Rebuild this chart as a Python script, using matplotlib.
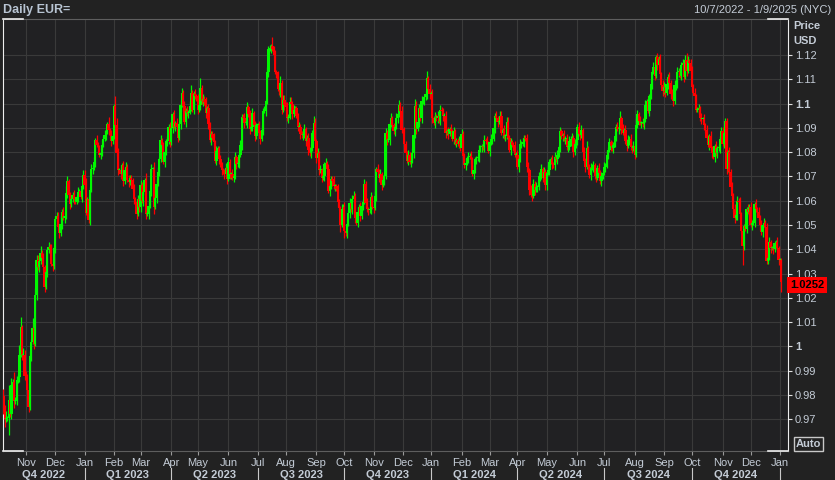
import matplotlib
matplotlib.use('Agg')
import matplotlib.pyplot as plt
import matplotlib.transforms as mtransforms
import numpy as np
import pandas as pd

plt.rcParams['font.family'] = ['Liberation Sans', 'DejaVu Sans']

# EUR/USD daily, prices x10000, one line per month
first_open = 9795
closes = [
    9740, 9700, 9705, 9705, 9780, 9720, 9840, 9855, 9775, 9780, 9860, 9875, 9965, 10080, 9965, 9965, 9880,  # Oct 22
    9875, 9820, 9750, 9960, 10020, 10075, 10010, 10210, 10355, 10325, 10350, 10385, 10365, 10325,
    10245, 10305, 10395, 10410, 10400, 10340, 10330, 10405,  # Nov 22
    10525, 10535, 10490, 10465, 10505, 10555, 10530, 10535, 10630, 10680, 10625, 10585,
    10605, 10625, 10605, 10595, 10615, 10635, 10640, 10615, 10660, 10705,  # Dec 22
    10665, 10550, 10605, 10520, 10645, 10730, 10735, 10760, 10850, 10830, 10820, 10790,
    10795, 10830, 10855, 10870, 10885, 10915, 10890, 10870, 10845, 10865,  # Jan 23
    10990, 10910, 10795, 10725, 10725, 10710, 10745, 10680, 10725, 10740, 10685, 10675,
    10695, 10685, 10650, 10605, 10595, 10545, 10605, 10575,  # Feb 23
    10665, 10600, 10635, 10685, 10545, 10545, 10580, 10640, 10730, 10730, 10575, 10610,
    10670, 10720, 10770, 10850, 10830, 10760, 10800, 10845, 10845, 10905, 10840,  # Mar 23
    10900, 10955, 10905, 10920, 10905, 10860, 10915, 10995, 11045, 10990, 10925, 10970,
    10960, 10965, 10990, 11045, 10975, 11040, 11030, 11020,  # Apr 23
    10975, 10995, 11065, 11010, 11020, 11005, 10960, 10980, 10915, 10850, 10875, 10860,
    10840, 10765, 10805, 10815, 10770, 10750, 10725, 10720, 10710, 10735, 10690,  # May 23
    10760, 10710, 10710, 10695, 10700, 10780, 10750, 10755, 10790, 10830, 10945, 10940,
    10920, 10920, 10985, 10955, 10895, 10905, 10960, 10910, 10865, 10910,  # Jun 23
    10910, 10880, 10855, 10890, 10970, 10970, 11010, 11130, 11225, 11230, 11235, 11225,
    11200, 11130, 11125, 11060, 11055, 11085, 10975, 11015, 10995,  # Jul 23
    10985, 10940, 10945, 11005, 11000, 10955, 10975, 10980, 10950, 10905, 10905, 10875,
    10870, 10870, 10895, 10845, 10860, 10810, 10795, 10815, 10880, 10920, 10845,  # Aug 23
    10775, 10795, 10725, 10725, 10695, 10700, 10750, 10755, 10730, 10640, 10660, 10690,
    10680, 10660, 10660, 10650, 10595, 10570, 10500, 10565, 10575,  # Sep 23
    10475, 10465, 10505, 10550, 10590, 10565, 10605, 10620, 10530, 10510, 10555, 10575,
    10535, 10580, 10595, 10670, 10590, 10565, 10560, 10565, 10615, 10575,  # Oct 23
    10570, 10620, 10730, 10720, 10695, 10710, 10665, 10685, 10700, 10880, 10850, 10850,
    10915, 10940, 10910, 10885, 10905, 10940, 10955, 10995, 10970, 10890,  # Nov 23
    10885, 10835, 10795, 10765, 10790, 10760, 10765, 10795, 10870, 10990, 10895, 10925,
    10980, 10940, 11010, 11015, 11025, 11040, 11105, 11060, 11040,  # Dec 23
    11040, 10940, 10920, 10945, 10940, 10950, 10930, 10975, 10970, 10950, 10950, 10880,
    10885, 10875, 10895, 10885, 10855, 10885, 10840, 10850, 10835, 10845, 10815,  # Jan 24
    10875, 10785, 10745, 10755, 10775, 10780, 10785, 10770, 10710, 10725, 10770, 10775,
    10780, 10810, 10820, 10825, 10820, 10850, 10845, 10835, 10805,  # Feb 24
    10840, 10855, 10855, 10900, 10950, 10940, 10925, 10925, 10950, 10880, 10890, 10865,
    10865, 10925, 10860, 10810, 10840, 10830, 10825, 10790, 10790,  # Mar 24
    10740, 10770, 10835, 10835, 10840, 10860, 10855, 10740, 10725, 10645, 10625, 10620,
    10670, 10645, 10655, 10655, 10700, 10700, 10730, 10695, 10720, 10665,  # Apr 24
    10715, 10725, 10760, 10770, 10750, 10745, 10780, 10770, 10790, 10820, 10885, 10865,
    10870, 10855, 10855, 10820, 10820, 10845, 10855, 10860, 10800, 10835, 10850,  # May 24
    10905, 10875, 10870, 10890, 10800, 10765, 10740, 10815, 10740, 10705, 10735, 10740,
    10745, 10700, 10695, 10735, 10715, 10680, 10700, 10715,  # Jun 24
    10740, 10745, 10790, 10810, 10840, 10825, 10815, 10830, 10865, 10905, 10895, 10900,
    10940, 10895, 10880, 10890, 10845, 10825, 10850, 10855, 10820, 10815, 10825,  # Jul 24
    10790, 10910, 10955, 10930, 10920, 10920, 10915, 10935, 10995, 11010, 10970, 11030,
    11080, 11130, 11150, 11115, 11190, 11160, 11185, 11120, 11075, 11050,  # Aug 24
    11070, 11045, 11080, 11110, 11085, 11040, 11035, 11010, 11075, 11075, 11130, 11135,
    11115, 11160, 11165, 11110, 11180, 11135, 11175, 11165, 11135,  # Sep 24
    11070, 11045, 11030, 10975, 10975, 10980, 10940, 10935, 10935, 10910, 10890, 10860,
    10830, 10865, 10815, 10795, 10780, 10825, 10795, 10815, 10815, 10855, 10885,  # Oct 24
    10835, 10880, 10930, 10730, 10800, 10720, 10655, 10620, 10565, 10530, 10540, 10600,
    10595, 10545, 10475, 10415, 10495, 10485, 10565, 10555, 10575,  # Nov 24
    10500, 10510, 10510, 10585, 10565, 10555, 10530, 10500, 10470, 10500, 10510, 10490,
    10350, 10365, 10430, 10405, 10405, 10400, 10425, 10430, 10405, 10355,  # Dec 24
    10355, 10265,  # Jan 25
]

# wick beyond the body, in units of 10 pips (upper / lower), grouped by week
wick_up = ("3 23162 31412 14413 2 2132 14232 21312 12121 221 12 21312 23211 11211 21112 "
           "23121 21212 11221 21131 21 143 21212 12121 11211 21 212 13121 21312 21211 11212 "
           "21212 11221 21212 31121 21412 12121 11212 11211 121 21 12121 21211 21212 12121 "
           "12121 21211 14121 11312 2 1212 21211 12112 21121 2132 1 21212 12121 11211 21121 "
           "21212 12211 21211 21211 21 121 21212 12121 21112 1212 1 21121 12132 12121 11312 "
           "12121 21211 12121 21211 121 21 12121 21211 12112 2121 1 21212 11221 21221 21121 "
           "21212 11221 21212 12121 21 121 12121 21211 21212 12121 12121 21311 21212 12121 "
           "21212 12121 21312 12121 212 13 21212 12121 21221 21212 21212 12121 21212 12321 2 "
           "2121 12121 21211 21212 1212 2 21112 12121 21212 12121 21212 12121 21212 11211 21 11")
wick_dn = ("2 31171 21312 12121 2 2121 21212 12121 21212 121 21 12121 21212 11211 21121 "
           "21212 12121 21211 12121 21 121 21212 12121 21212 12 212 12121 21312 12121 21212 "
           "12121 21212 12121 21211 21212 12121 21212 12121 212 12 21212 12121 21212 12121 "
           "21212 12121 21212 12321 2 2121 12121 21212 12121 2121 2 12121 21212 12121 21312 "
           "31212 12121 21212 12121 21 212 12121 21212 12121 2121 2 12121 21212 12121 21212 "
           "12121 21212 12121 21212 121 21 12121 21212 12121 2121 2 12121 21212 12121 21212 "
           "12121 21212 12121 21212 12 212 12121 21212 12121 21212 21212 12121 21212 12121 "
           "12121 21212 12121 21212 121 21 12121 21212 12121 21212 12121 21212 12121 21212 1 "
           "2121 12121 21212 12121 2121 1 21212 12121 21218 21212 12121 21212 12111 21212 12 14")

price_label = "1.0252"
y_ticks = [0.97, 0.98, 0.99, 1.00, 1.01, 1.02, 1.03, 1.04, 1.05, 1.06,
           1.07, 1.08, 1.09, 1.10, 1.11, 1.12]

dates = pd.bdate_range('2022-10-07', '2025-01-09')
c = np.array(closes) / 10000
o = np.concatenate([[first_open / 10000], c[:-1]])
up = np.array([int(ch) for ch in wick_up if ch.isdigit()]) / 1000
dn = np.array([int(ch) for ch in wick_dn if ch.isdigit()]) / 1000
n = min(len(c), len(up), len(dn))
if not (len(c) == len(up) == len(dn)):
    print("length mismatch", len(c), len(up), len(dn))
c, o, up, dn = c[:n], o[:n], up[:n], dn[:n]
hi = np.maximum(o, c) + up
lo = np.minimum(o, c) - dn
x = np.arange(n)

green, red = '#00f800', '#ff0000'
cols = np.where(c >= o, green, red)

fig = plt.figure(figsize=(8.35, 4.8), dpi=100)
fig.patch.set_facecolor('#222222')
ax = fig.add_axes([2.5 / 835, 29 / 480, 785.5 / 835, 432 / 480])
ax.set_facecolor('#212123')

ax.vlines(x, lo, hi, colors=cols, linewidth=0.9, zorder=3)
body = np.maximum(np.abs(c - o), 0.0004)
ax.bar(x, body, bottom=np.minimum(o, c), width=1.75, color=cols, linewidth=0, zorder=3)

ax.set_xlim(-0.64, 589.1)
ax.set_ylim(0.95695, 1.1348)

# month ticks at first trading day of each month
month_pos, month_lab, q_starts = [], [], []
for i in range(1, len(dates)):
    if dates[i].month != dates[i - 1].month:
        month_pos.append(i)
        month_lab.append(dates[i].strftime('%b'))
        if dates[i].month in (1, 4, 7, 10):
            q_starts.append((i, dates[i]))

txt = '#c4ccd6'
ax.set_xticks(month_pos)
ax.set_xticklabels(month_lab)
ax.tick_params(axis='x', colors='#9a9a9a', labelcolor=txt, length=3, pad=2, labelsize=8)
ax.yaxis.tick_right()
ax.set_yticks(y_ticks)
ax.set_yticklabels([f"{v:.2f}".rstrip('0').rstrip('.') for v in y_ticks])
ax.tick_params(axis='y', colors='#e0e0e0', labelcolor=txt, length=3, pad=2, labelsize=8)
for lab in ax.get_yticklabels():
    if lab.get_text() in ('1', '1.1'):
        lab.set_fontweight('bold')

ax.grid(True, color='#3a3a3a', linewidth=0.8)
ax.set_axisbelow(True)
for s in ('top', 'bottom'):
    ax.spines[s].set_color('#5e5e5e')
for s in ('left', 'right'):
    ax.spines[s].set_color('#eeeeee')
# white corner marks
cw = 20 / 785.5
for xs in ([0, cw], [1 - cw, 1]):
    for yv in (0, 1):
        ax.plot(xs, [yv, yv], color='#eeeeee', lw=1.2, transform=ax.transAxes, clip_on=False, zorder=5)

# quarter labels and separators
trans = mtransforms.blended_transform_factory(ax.transData, ax.transAxes)
bounds = [(-0.64, pd.Timestamp('2022-10-01'))] + q_starts
for k in range(len(bounds) - 1):
    a, d = bounds[k]
    b = bounds[k + 1][0]
    q = (d.month - 1) // 3 + 1
    ax.text((a + b) / 2, -0.0556, f"Q{q} {d.year}", transform=trans, ha='center', va='center',
            fontsize=8, fontweight='bold', color=txt, clip_on=False)
for i, d in q_starts:
    ax.plot([i, i], [-0.039, -0.07], color='#c8c8c8', lw=0.8, transform=trans, clip_on=False)

# header texts
fig.text(3 / 835, 1 - 10 / 480, "Daily EUR=", fontsize=9, fontweight='bold', color='#b8c4d2', va='center')
fig.text(831 / 835, 1 - 10 / 480, "10/7/2022 - 1/9/2025 (NYC)", fontsize=8, color=txt, va='center', ha='right')
fig.text(793 / 835, 1 - 26 / 480, "Price", fontsize=8, fontweight='bold', color=txt, va='center')
fig.text(793 / 835, 1 - 41 / 480, "USD", fontsize=8, fontweight='bold', color=txt, va='center')

# last price tag
ax.annotate(price_label, xy=(1.0, float(price_label)), xycoords=('axes fraction', 'data'),
            xytext=(1.5, 0), textcoords='offset points', ha='left', va='center',
            fontsize=8, fontweight='bold', color='black',
            bbox=dict(boxstyle='square,pad=0.25', fc='#ff0000', ec='none'), annotation_clip=False)

fig.text(796 / 835, 1 - 444 / 480, "Auto", fontsize=8, fontweight='bold', color=txt, va='center',
         bbox=dict(boxstyle='square,pad=0.15', fc='none', ec='#c8c8c8', lw=1))

fig.savefig('out.png', dpi=100, facecolor=fig.get_facecolor())
